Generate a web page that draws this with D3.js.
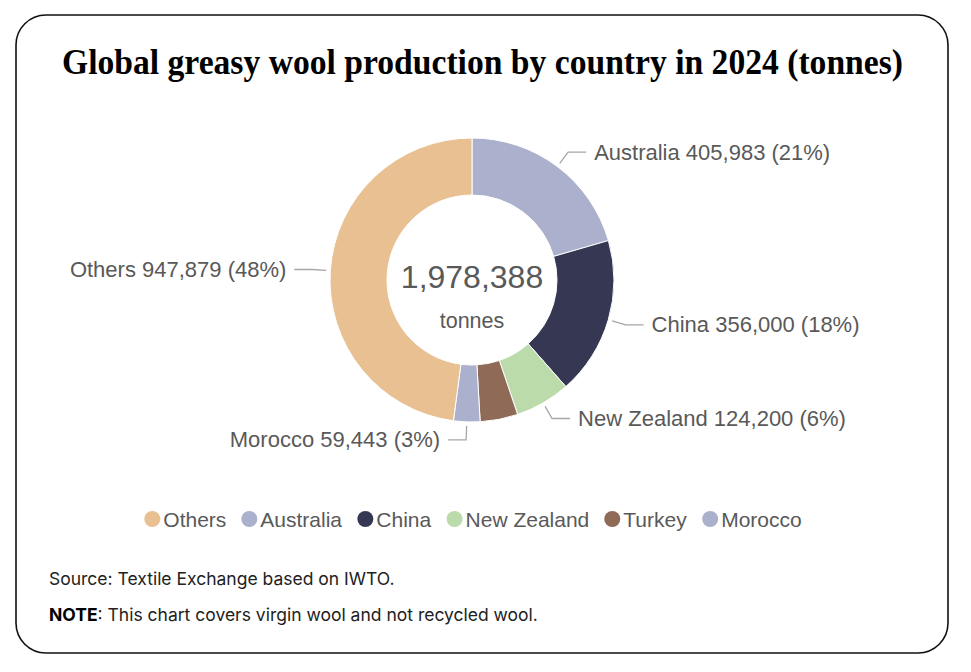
<!DOCTYPE html>
<html lang="en">
<head>
	<meta charset="utf-8">
	<title>Global greasy wool production</title>
	<script src="https://d3js.org/d3.v7.min.js" charset="utf-8"></script>
	<style>
		body { margin: 0; background: #fff; }
		svg { display: block; }
	</style>
</head>
<body>
	<script>
	// Data, in drawing order (clockwise from 12 o'clock)
	var countries = ["Australia", "China", "New Zealand", "Turkey", "Morocco", "Others"];
	var tonnes = [405983, 356000, 124200, 84883, 59443, 947879];
	var colours = ["#abb0cc", "#363853", "#bcdbaa", "#8e6a57", "#abb0cc", "#e9c091"];
	var labelled = ["Australia", "China", "New Zealand", "Morocco", "Others"];
	// legend order
	var legendOrder = ["Others", "Australia", "China", "New Zealand", "Turkey", "Morocco"];

	var w = 971, h = 672;
	var cx = 472, cy = 280;
	var rOuter = 142, rInner = 85;

	var svg = d3.select("body")
		.append("svg")
		.attr("width", w)
		.attr("height", h);

	// card border
	svg.append("rect")
		.attr("x", 16).attr("y", 15)
		.attr("width", 932).attr("height", 638)
		.attr("rx", 30).attr("ry", 30)
		.attr("fill", "#fff")
		.attr("stroke", "#111")
		.attr("stroke-width", 1.6);

	// title
	svg.append("text")
		.attr("x", 482.5).attr("y", 74)
		.attr("text-anchor", "middle")
		.attr("font-family", "'Liberation Serif', 'DejaVu Serif', serif")
		.attr("font-weight", "bold")
		.attr("font-size", 36)
		.attr("textLength", 841)
		.attr("lengthAdjust", "spacingAndGlyphs")
		.attr("fill", "#000")
		.text("Global greasy wool production by country in 2024 (tonnes)");

	var total = d3.sum(tonnes);
	var data = countries.map(function(c, i) { return { name: c, value: tonnes[i], colour: colours[i] }; });

	var pie = d3.pie().sort(null).value(function(d) { return d.value; });
	var arc = d3.arc().innerRadius(rInner).outerRadius(rOuter);
	var arcs = pie(data);

	var g = svg.append("g").attr("transform", "translate(" + cx + "," + cy + ")");

	g.selectAll("path.slice")
		.data(arcs)
		.enter()
		.append("path")
		.attr("class", "slice")
		.attr("d", arc)
		.attr("fill", function(d) { return d.data.colour; })
		.attr("stroke", "#fff")
		.attr("stroke-width", 1);

	// centre total
	var fmt = d3.format(",");
	g.append("text")
		.attr("y", -3)
		.attr("text-anchor", "middle")
		.attr("dominant-baseline", "central")
		.attr("font-family", "'Liberation Sans', Arial, sans-serif")
		.attr("font-size", 32)
		.attr("fill", "#595959")
		.text(fmt(total));
	g.append("text")
		.attr("y", 41)
		.attr("text-anchor", "middle")
		.attr("dominant-baseline", "central")
		.attr("font-family", "'Liberation Sans', Arial, sans-serif")
		.attr("font-size", 21.5)
		.attr("fill", "#595959")
		.text("tonnes");

	// leader lines + labels
	var r1 = rOuter + 4, r2 = rOuter + 18, len2 = 18;
	var pct = d3.format(".0%");
	var labelArcs = arcs.filter(function(d) { return labelled.indexOf(d.data.name) >= 0; });

	labelArcs.forEach(function(d) {
		var a = (d.startAngle + d.endAngle) / 2;
		var sx = Math.sin(a), sy = -Math.cos(a);
		var right = sx > 0;
		var p1 = [r1 * sx, r1 * sy];
		var p2 = [r2 * sx, r2 * sy];
		var p3 = [p2[0] + (right ? len2 : -len2), p2[1]];
		g.append("polyline")
			.attr("points", [p1, p2, p3].map(function(p) { return p.join(","); }).join(" "))
			.attr("fill", "none")
			.attr("stroke", "#a6a6a6")
			.attr("stroke-width", 1.3);
		g.append("text")
			.attr("x", p3[0] + (right ? 8 : -8))
			.attr("y", p3[1])
			.attr("text-anchor", right ? "start" : "end")
			.attr("dominant-baseline", "central")
			.attr("font-family", "'Liberation Sans', Arial, sans-serif")
			.attr("font-size", 22)
			.attr("fill", "#595959")
			.text(d.data.name + " " + fmt(d.data.value) + " (" + pct(d.data.value / total) + ")");
	});

	// legend
	var legend = svg.append("g").attr("transform", "translate(0,519)");
	var items = legendOrder.map(function(n) { return data[countries.indexOf(n)]; });
	var x = 0, gap = 15, dot = 16;
	var legItems = legend.selectAll("g.item")
		.data(items)
		.enter()
		.append("g")
		.attr("class", "item");
	legItems.append("circle")
		.attr("r", dot / 2)
		.attr("cx", dot / 2)
		.attr("fill", function(d) { return d.colour; });
	legItems.append("text")
		.attr("x", dot + 3)
		.attr("dominant-baseline", "central")
		.attr("font-family", "'Liberation Sans', Arial, sans-serif")
		.attr("font-size", 21)
		.attr("fill", "#595959")
		.text(function(d) { return d.name; });
	legItems.each(function() {
		var bw = this.getBBox().width;
		d3.select(this).attr("transform", "translate(" + x + ",0)");
		x += bw + gap;
	});
	var legW = x - gap;
	legend.attr("transform", "translate(" + (cx + 1 - legW / 2) + ",519)");

	// notes
	svg.append("text")
		.attr("x", 49).attr("y", 578)
		.attr("dominant-baseline", "central")
		.attr("font-family", "Inter, 'Noto Sans', sans-serif")
		.attr("font-size", 17.5)
		.attr("fill", "#222")
		.text("Source: Textile Exchange based on IWTO.");
	var note = svg.append("text")
		.attr("x", 49).attr("y", 614)
		.attr("dominant-baseline", "central")
		.attr("font-family", "Inter, 'Noto Sans', sans-serif")
		.attr("font-size", 17.5)
		.attr("fill", "#222");
	note.append("tspan").attr("font-weight", "bold").attr("fill", "#000").text("NOTE");
	note.append("tspan").text(": This chart covers virgin wool and not recycled wool.");
	</script>
</body>
</html>
